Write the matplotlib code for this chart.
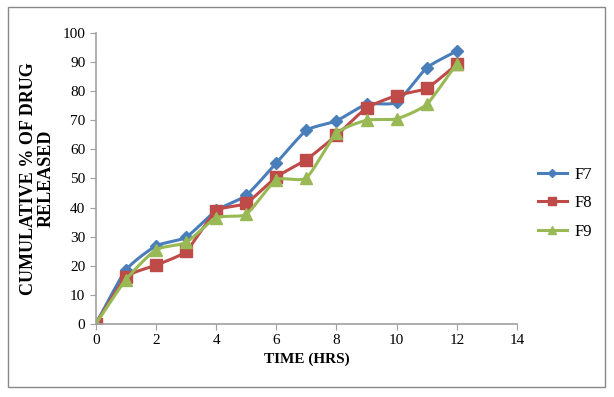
import numpy as np
import matplotlib.pyplot as plt
from matplotlib.patches import Rectangle

plt.rcParams['font.family'] = ['Liberation Serif', 'DejaVu Serif']

time_hrs = [0, 1, 2, 3, 4, 5, 6, 7, 8, 9, 10, 11, 12]
f7 = [0, 18.5, 26.8, 29.8, 39.0, 44.2, 55.3, 66.5, 69.8, 75.5, 76.2, 88.0, 93.8]
f8 = [0, 16.0, 20.2, 25.0, 38.8, 41.5, 50.5, 56.5, 64.8, 74.2, 78.5, 81.0, 89.2]
f9 = [0, 15.2, 25.5, 28.0, 36.5, 37.7, 49.5, 50.2, 65.5, 70.0, 70.5, 75.5, 89.5]


def smooth(x, y, n=20):
    # Catmull-Rom style curve, like Excel's smoothed line
    x = np.asarray(x, float)
    y = np.asarray(y, float)
    px = np.concatenate([[2 * x[0] - x[1]], x, [2 * x[-1] - x[-2]]])
    py = np.concatenate([[2 * y[0] - y[1]], y, [2 * y[-1] - y[-2]]])
    xs, ys = [], []
    t = np.linspace(0, 1, n)
    for i in range(1, len(px) - 2):
        p0, p1, p2, p3 = [np.array([px[j], py[j]]) for j in range(i - 1, i + 3)]
        m1 = (p2 - p0) / 2 * 0.6
        m2 = (p3 - p1) / 2 * 0.6
        h00 = 2 * t**3 - 3 * t**2 + 1
        h10 = t**3 - 2 * t**2 + t
        h01 = -2 * t**3 + 3 * t**2
        h11 = t**3 - t**2
        pts = np.outer(h00, p1) + np.outer(h10, m1) + np.outer(h01, p2) + np.outer(h11, m2)
        xs.extend(pts[:, 0])
        ys.extend(pts[:, 1])
    return xs, ys


fig = plt.figure(figsize=(6.14, 3.97), dpi=100)
fig.patches.append(Rectangle((0.013, 0.025), 0.972, 0.957, transform=fig.transFigure,
                             fill=False, edgecolor='#888888', linewidth=1))
ax = fig.add_axes([0.156, 0.184, 0.686, 0.733])

series = [
    ('F7', f7, '#4a7ebb', 'D', 6),
    ('F8', f8, '#be4b48', 's', 8),
    ('F9', f9, '#98b954', '^', 8),
]
for name, vals, col, mk, ms in series:
    sx, sy = smooth(time_hrs, vals)
    ax.plot(sx, sy, color=col, linewidth=2.2)
    ax.plot(time_hrs, vals, linestyle='none', marker=mk, markersize=ms, color=col)
    ax.plot([], [], color=col, linewidth=2.2, marker=mk, markersize=ms - 2, label=name)

ax.set_xlim(0, 14)
ax.set_ylim(0, 100)
ax.set_xticks(range(0, 15, 2))
ax.set_yticks(range(0, 101, 10))
for s in ['top', 'right']:
    ax.spines[s].set_visible(False)
for s in ['left', 'bottom']:
    ax.spines[s].set_color('#a0a0a0')
    ax.spines[s].set_linewidth(1.2)
ax.tick_params(colors='#a0a0a0', labelcolor='black', labelsize=11, length=4, direction='out')
ax.set_xlabel('TIME (HRS)', fontsize=11, fontweight='bold')
ax.set_ylabel('CUMULATIVE % OF DRUG\nRELEASED', fontsize=13, fontweight='bold',
              linespacing=1.0, labelpad=6)
ax.legend(loc='center left', bbox_to_anchor=(1.015, 0.415), frameon=False, fontsize=12,
          handlelength=1.7, handletextpad=0.5, labelspacing=0.75)

fig.savefig('out.png', dpi=100)
